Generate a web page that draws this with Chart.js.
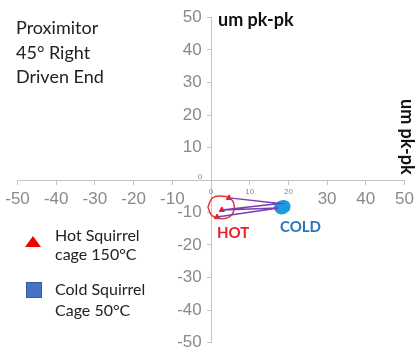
<!DOCTYPE html>
<html>
<head>
<meta charset="utf-8">
<script src="https://cdn.jsdelivr.net/npm/chart.js@4/dist/chart.umd.min.js"></script>
<style>
  body { margin: 0; background: #fff; }
  #wrap { position: relative; width: 417px; height: 353px; overflow: hidden; font-family: Lato, "Open Sans", sans-serif; }
  #chart { position: absolute; left: 0; top: 0; }
  .note { position: absolute; white-space: nowrap; color: #222; }
  .tri { position: absolute; width: 0; height: 0; border-left: 8px solid transparent; border-right: 8px solid transparent; border-bottom: 11px solid #f00000; }
  .sq { position: absolute; width: 14px; height: 14px; background: #4472c4; border: 1px solid #35599a; }
</style>
</head>
<body>
<div id="wrap">
  <canvas id="chart" width="417" height="353"></canvas>

  <div class="note" style="left:16px; top:15px; font-size:18px; line-height:24.5px;">Proximitor<br>45° Right<br>Driven End</div>
  <div class="note" style="left:218px; top:8px; font-size:18px; font-weight:bold; color:#111;">um pk-pk</div>
  <div class="note" style="left:419px; top:99px; font-size:18px; font-weight:bold; color:#111; transform-origin:0 0; transform:rotate(90deg);">um pk-pk</div>

  <div class="tri" style="left:25px; top:236px;"></div>
  <div class="note" style="left:55px; top:225px; font-size:16px; line-height:19px;">Hot Squirrel<br>cage 150°C</div>
  <div class="sq" style="left:26px; top:282px;"></div>
  <div class="note" style="left:55px; top:278px; font-size:16px; line-height:21px;">Cold Squirrel<br>Cage 50°C</div>

  <div class="note" style="left:217px; top:223px; font-size:15px; font-weight:bold; color:#e8202a;">HOT</div>
  <div class="note" style="left:280px; top:217px; font-size:15px; font-weight:bold; color:#2e75b6;">COLD</div>
</div>

<script>
// valores de ejes
const axisTicks = [-50, -40, -30, -20, -10, 0, 10, 20, 30, 40, 50];
const hiddenXLabels = [0, 10, 20];
const hiddenYLabels = [0];
const smallXLabels = [0, 10, 20];
const smallYLabels = [0];

// datos
const hotLoop = [
    {x: -0.8, y: -8.3}, {x: 0.3, y: -5.6}, {x: 2.3, y: -4.9}, {x: 4.9, y: -5.6},
    {x: 6.0, y: -8.0}, {x: 5.2, y: -10.9}, {x: 2.8, y: -11.9}, {x: 0.2, y: -10.9},
    {x: -0.8, y: -8.3}
];
const hotPoints = [{x: 4.65, y: -5.5}, {x: 2.8, y: -9.2}, {x: 1.55, y: -11.4}];
const hotColdLinks = [
    {x: 4.65, y: -5.5}, {x: 17.8, y: -7.2}, {x: 2.8, y: -9.2},
    {x: 17.4, y: -8.6}, {x: 1.55, y: -11.4}
];
const coldLoop = [
    {x: 16.4, y: -8.6}, {x: 17.4, y: -7.0}, {x: 19.2, y: -6.6}, {x: 20.2, y: -7.8},
    {x: 19.6, y: -9.6}, {x: 17.6, y: -10.1}, {x: 16.4, y: -8.6}
];
const coldPoints = [{x: 17.8, y: -7.6}, {x: 19.3, y: -7.9}, {x: 18.5, y: -9.1}];

const grey = '#8a8a8a';
const axisColor = '#c4c4c4';

const smallLabels = {
    id: 'smallLabels',
    afterDraw(chart) {
        const ctx = chart.ctx;
        const xs = chart.scales.x, ys = chart.scales.y;
        ctx.save();
        ctx.fillStyle = grey;
        ctx.font = '8px "Liberation Sans", sans-serif';
        ctx.textAlign = 'center';
        ctx.textBaseline = 'middle';
        smallXLabels.forEach(v => {
            ctx.fillText(String(v), xs.getPixelForValue(v), ys.getPixelForValue(0) + 12);
        });
        smallYLabels.forEach(v => {
            ctx.fillText(String(v), xs.getPixelForValue(0) - 11, ys.getPixelForValue(v) - 3);
        });
        ctx.restore();
    }
};

const setTicks = scale => { scale.ticks = axisTicks.map(v => ({value: v})); };
// que las etiquetas no achiquen el area del grafico
const noPadding = scale => {
    scale.paddingLeft = 0;
    scale.paddingRight = 0;
    scale.paddingTop = 0;
    scale.paddingBottom = 0;
};

const tickFont = {family: '"Liberation Sans", Arial, sans-serif', size: 17};

new Chart(document.getElementById('chart'), {
    type: 'scatter',
    data: {
        datasets: [
            {
                data: hotColdLinks,
                showLine: true,
                borderColor: '#7a3db0',
                borderWidth: 1.5,
                pointRadius: 0,
            },
            {
                data: coldLoop,
                showLine: true,
                tension: 0.4,
                borderColor: '#1e9be0',
                backgroundColor: '#1e9be0',
                borderWidth: 2.5,
                fill: 'shape',
                pointRadius: 0,
            },
            {
                data: coldPoints,
                pointStyle: 'rect',
                pointRadius: 2.5,
                backgroundColor: '#1e9be0',
                borderColor: '#1e9be0',
            },
            {
                data: hotLoop,
                showLine: true,
                borderColor: '#e53535',
                borderWidth: 1.5,
                tension: 0.4,
                pointRadius: 0,
            },
            {
                data: hotPoints,
                pointStyle: 'triangle',
                pointRadius: 3,
                backgroundColor: '#e8141c',
                borderColor: '#e8141c',
            },
        ],
    },
    options: {
        responsive: false,
        animation: false,
        layout: {padding: {left: 17.5, right: 12.5, top: 17.5, bottom: 10.5}},
        plugins: {legend: {display: false}, tooltip: {enabled: false}},
        scales: {
            x: {
                type: 'linear',
                min: -50,
                max: 50,
                position: {y: 0},
                afterBuildTicks: setTicks,
                afterFit: noPadding,
                grid: {drawOnChartArea: false, tickLength: 4, color: axisColor},
                border: {color: axisColor},
                ticks: {
                    color: grey,
                    font: tickFont,
                    padding: 5,
                    maxRotation: 0,
                    autoSkip: false,
                    callback: v => hiddenXLabels.includes(v) ? '' : String(v),
                },
            },
            y: {
                type: 'linear',
                min: -50,
                max: 50,
                position: {x: 0},
                afterBuildTicks: setTicks,
                afterFit: noPadding,
                grid: {drawOnChartArea: false, tickLength: 4, color: axisColor},
                border: {color: axisColor},
                ticks: {display: false},
            },
            // etiquetas del eje y, corridas a la izquierda del eje
            yLabels: {
                type: 'linear',
                axis: 'y',
                min: -50,
                max: 50,
                position: {x: -2.4},
                afterBuildTicks: setTicks,
                afterFit: noPadding,
                grid: {display: false},
                border: {display: false},
                ticks: {
                    color: grey,
                    font: tickFont,
                    autoSkip: false,
                    callback: v => hiddenYLabels.includes(v) ? '' : String(v),
                },
            },
        },
    },
    plugins: [smallLabels],
});
</script>
</body>
</html>
